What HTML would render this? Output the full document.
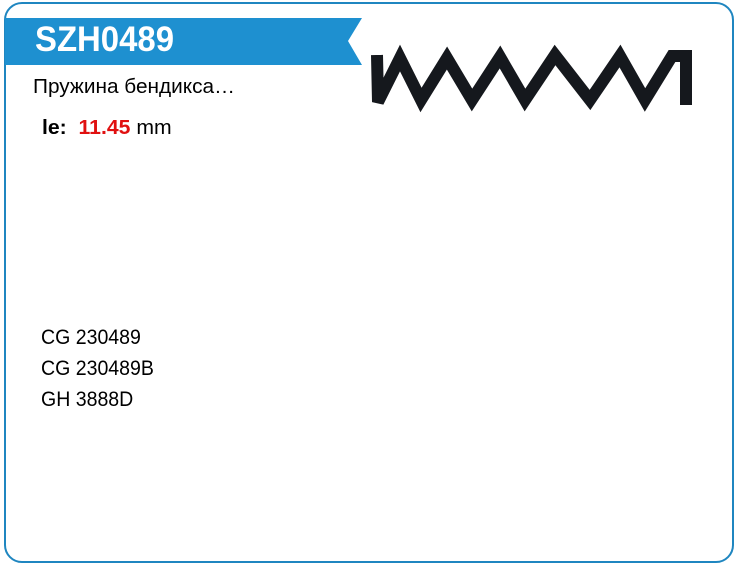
<!DOCTYPE html>
<html><head><meta charset="utf-8"><style>
body{margin:0;width:740px;height:576px;background:#fff;position:relative;overflow:hidden;font-family:"Liberation Sans",Arial,sans-serif}
.box{position:absolute;left:4px;top:2px;width:730px;height:561px;border:2px solid #1f86c0;border-radius:18px;box-sizing:border-box}
.t{position:absolute;white-space:nowrap;color:#000}
</style></head><body>
<div class="box"></div>
<svg style="position:absolute;left:0;top:0" width="740" height="576">
<polygon points="5,18 362,18 348,41 362,65 5,65" fill="#1e90d0"/>
<polyline points="377,55 378,102 400,58 421,100 447,58 472,100 500,57 525,100 555,55 590,100 620,56 645,100 672,56 686,56 686,105" fill="none" stroke="#15181d" stroke-width="12" stroke-linejoin="miter"/>
</svg>
<div class="t" style="left:35px;top:20px;font-size:35px;font-weight:bold;color:#fff;transform:scaleX(0.94);transform-origin:left">SZH0489</div>
<div class="t" style="left:33px;top:76px;font-size:20px;transform:scaleX(1.04);transform-origin:left">Пружина бендикса…</div>
<div class="t" style="left:42px;top:117px;font-size:20px;transform:scaleX(1.06);transform-origin:left"><b>le:</b>&nbsp; <b style="color:#e01010">11.45</b> mm</div>
<div class="t" style="left:41px;top:322px;font-size:21px;line-height:31px;transform:scaleX(0.93);transform-origin:left">CG 230489<br>CG 230489B<br>GH 3888D</div>
</body></html>
